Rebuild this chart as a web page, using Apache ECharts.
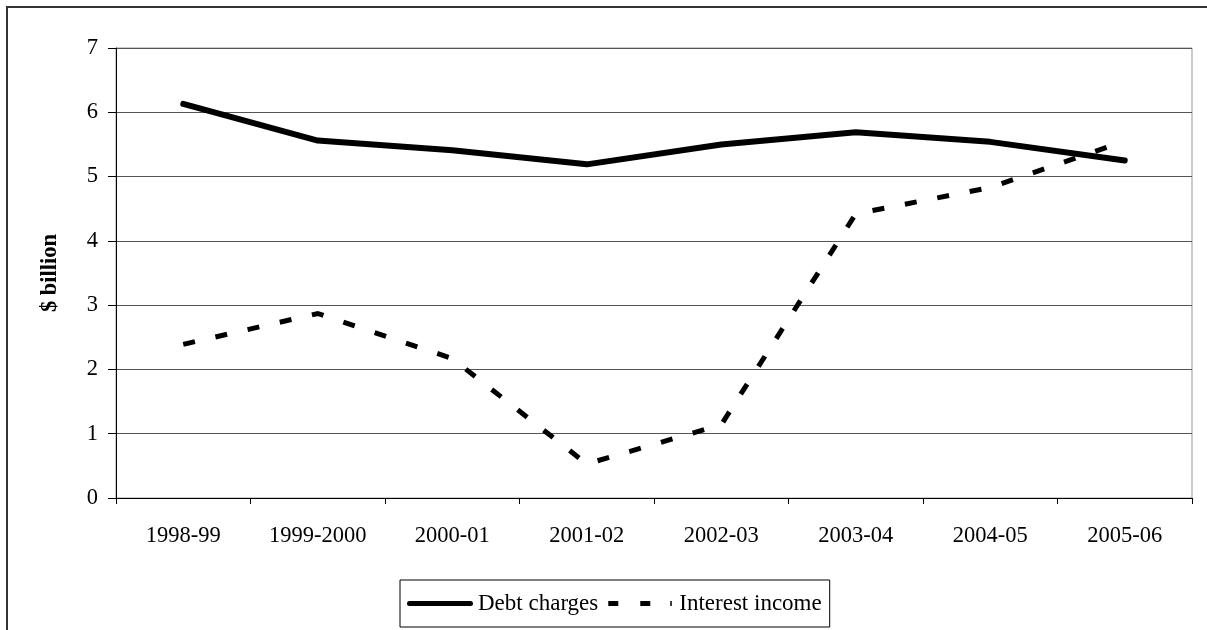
<!DOCTYPE html>
<html>
<head>
<meta charset="utf-8">
<script src="https://cdn.jsdelivr.net/npm/echarts@6/dist/echarts.min.js"></script>
<style>
  html, body { margin: 0; padding: 0; background: #fff; }
  #chart { width: 1207px; height: 630px; }
</style>
</head>
<body>
<div id="chart"></div>
<script>
// Financial years on the category axis
const years = ['1998-99', '1999-2000', '2000-01', '2001-02', '2002-03', '2003-04', '2004-05', '2005-06'];
// Values in $ billion
const debtCharges = [6.13, 5.56, 5.41, 5.19, 5.50, 5.69, 5.54, 5.25];
const interestIncome = [2.39, 2.87, 2.17, 0.53, 1.14, 4.42, 4.83, 5.55];
// Value-axis range and step
const yMin = 0, yMax = 7, yStep = 1;

const FONT = "'Liberation Serif', 'Times New Roman', serif";

// Legend keys: a solid bar and a broken bar, both 66 x 5
const SOLID_KEY = 'path://M2.5,0h61a2.5,2.5,0,0,1,0,5h-61a2.5,2.5,0,0,1,0,-5z';
const DASH_KEY = 'path://M0,0h10v5h-10z M32,0h10v5h-10z M62,0h1.5v5h-1.5z M0,0h0.01v0.01h-0.01z M65.99,4.99h0.01v0.01h-0.01z';

const chart = echarts.init(document.getElementById('chart'), null, { renderer: 'canvas' });

chart.setOption({
  backgroundColor: '#fff',
  animation: false,
  textStyle: { fontFamily: FONT, color: '#000' },
  graphic: [{
    type: 'rect',
    shape: { x: 7, y: 7, width: 1400, height: 1000 },
    style: { fill: 'none', stroke: '#333', lineWidth: 2 },
    silent: true
  }],
  grid: {
    left: 116, right: 15, top: 48, bottom: 132,
    show: true, borderColor: '#999', borderWidth: 1
  },
  legend: {
    left: 400, top: 580,
    padding: [12, 8, 12, 7],
    itemGap: 10,
    itemWidth: 66, itemHeight: 5,
    borderColor: '#000', borderWidth: 1,
    textStyle: { fontFamily: FONT, fontSize: 23, color: '#000' },
    itemStyle: { borderWidth: 0 },
    data: [
      { name: 'Debt charges', icon: SOLID_KEY },
      { name: 'Interest income', icon: DASH_KEY }
    ]
  },
  xAxis: {
    type: 'category',
    data: years,
    boundaryGap: true,
    axisLine: { lineStyle: { color: '#000', width: 1 } },
    axisTick: { show: true, inside: false, length: 6, lineStyle: { color: '#000' } },
    axisLabel: { fontFamily: FONT, fontSize: 22.5, color: '#000', margin: 27 },
    splitLine: { show: false }
  },
  yAxis: {
    type: 'value',
    min: yMin, max: yMax, interval: yStep,
    name: '$ billion',
    nameLocation: 'middle',
    nameRotate: 90,
    nameGap: 54,
    nameTextStyle: { fontFamily: FONT, fontSize: 22.5, fontWeight: 'bold', color: '#000' },
    axisLine: { show: true, lineStyle: { color: '#000', width: 1 } },
    axisTick: { show: true, inside: false, length: 8, lineStyle: { color: '#000' } },
    axisLabel: { fontFamily: FONT, fontSize: 22.5, color: '#000', margin: 18 },
    splitLine: { show: true, lineStyle: { color: '#555', width: 1 } }
  },
  series: [
    {
      name: 'Debt charges',
      type: 'line',
      data: debtCharges,
      symbol: 'none',
      showSymbol: false,
      lineStyle: { color: '#000', width: 6, cap: 'round', join: 'round' },
      itemStyle: { color: '#000' }
    },
    {
      name: 'Interest income',
      type: 'line',
      data: interestIncome,
      symbol: 'none',
      showSymbol: false,
      lineStyle: { color: '#000', width: 5, type: [12, 21], cap: 'butt', join: 'miter' },
      itemStyle: { color: '#000' }
    }
  ]
});
</script>
</body>
</html>
